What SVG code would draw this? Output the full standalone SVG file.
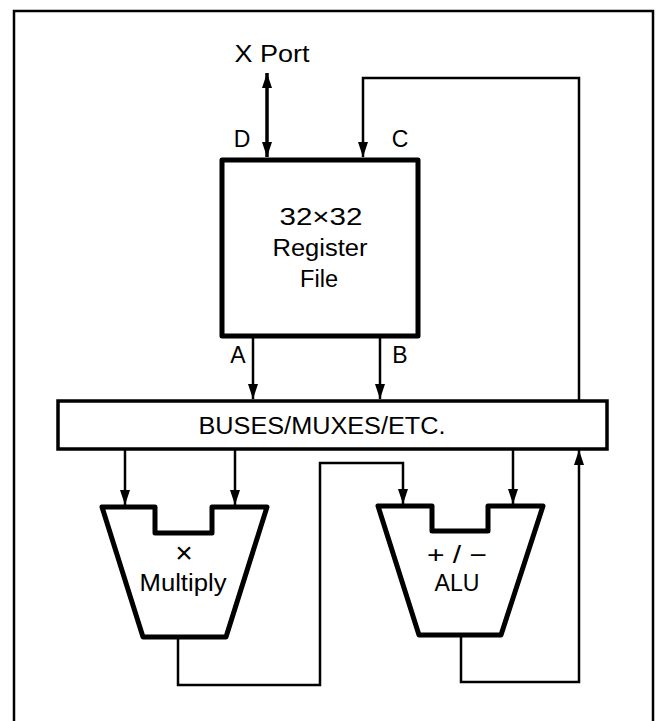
<svg xmlns="http://www.w3.org/2000/svg" width="657" height="721" viewBox="0 0 657 721">
<style>
text{font-family:"Liberation Sans",Arial,sans-serif;fill:#000;text-anchor:middle}
.t{font-size:23.5px}
.lbl{font-size:23px}
.box{fill:#fff;stroke:#000;stroke-width:5;stroke-linejoin:round}
.bar{fill:#fff;stroke:#000;stroke-width:3.5}
.w{fill:none;stroke:#000;stroke-width:2.5}
.wt{fill:none;stroke:#000;stroke-width:3.5}
</style>
<defs>
<marker id="a" markerUnits="userSpaceOnUse" markerWidth="15" markerHeight="10" viewBox="0 0 15 10" refX="15" refY="5" orient="auto-start-reverse">
<path d="M0,0 L15,5 L0,10 Z" fill="#000"/>
</marker>
</defs>
<path d="M14,721 V11 H653 V721" fill="none" stroke="#000" stroke-width="2.5"/>
<g id="connectors">
<line class="wt" x1="267" y1="73" x2="267" y2="157" marker-start="url(#a)" marker-end="url(#a)"/>
<path class="w" d="M579,400 V78 H363 V157" marker-end="url(#a)"/>
<line class="w" x1="253" y1="337" x2="253" y2="399" marker-end="url(#a)"/>
<line class="w" x1="380" y1="337" x2="380" y2="399" marker-end="url(#a)"/>
<line class="w" x1="125" y1="449" x2="125" y2="505" marker-end="url(#a)"/>
<line class="w" x1="235" y1="449" x2="235" y2="505" marker-end="url(#a)"/>
<line class="w" x1="513" y1="449" x2="513" y2="504" marker-end="url(#a)"/>
<path class="w" d="M178,637 V685 H320 V463 H403 V504" marker-end="url(#a)"/>
<path class="w" d="M461,635 V682 H579 V450" marker-end="url(#a)"/>
</g>
<g id="xport"><text class="t" x="272" y="62" textLength="75" lengthAdjust="spacingAndGlyphs">X Port</text></g>
<g id="labels">
<text class="lbl" x="242" y="147">D</text>
<text class="lbl" x="400" y="147">C</text>
<text class="lbl" x="238" y="363">A</text>
<text class="lbl" x="400" y="363">B</text>
</g>
<g id="regfile">
<rect class="box" x="222" y="160" width="196" height="176"/>
<text class="t" x="321" y="225" textLength="83" lengthAdjust="spacingAndGlyphs">32×32</text>
<text class="t" x="320" y="256" textLength="95" lengthAdjust="spacingAndGlyphs">Register</text>
<text class="t" x="319" y="287" textLength="38" lengthAdjust="spacingAndGlyphs">File</text>
</g>
<g id="buses">
<rect class="bar" x="58" y="401" width="549" height="48"/>
<text class="t" x="322" y="434" textLength="247" lengthAdjust="spacingAndGlyphs">BUSES/MUXES/ETC.</text>
</g>
<g id="multiply">
<path class="box" d="M102,507 H155 V533 H212 V507 H267 L226,637 H143 Z"/>
<text x="184" y="563" style="font-size:30px">×</text>
<text class="t" x="183" y="591" textLength="87" lengthAdjust="spacingAndGlyphs">Multiply</text>
</g>
<g id="alu">
<path class="box" d="M378,506 H432 V531 H488 V506 H543 L501,635 H419 Z"/>
<text class="t" x="457" y="563" textLength="60" lengthAdjust="spacingAndGlyphs">+ / −</text>
<text class="t" x="457" y="591" textLength="45" lengthAdjust="spacingAndGlyphs">ALU</text>
</g>
</svg>
